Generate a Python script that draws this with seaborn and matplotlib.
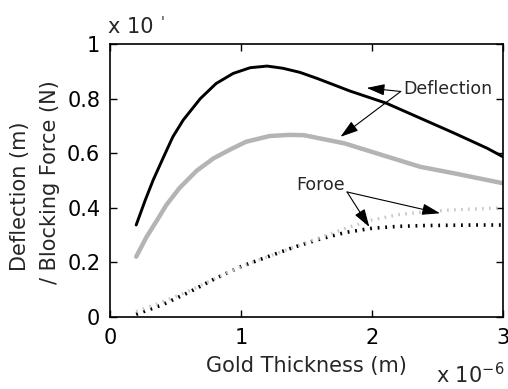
import matplotlib
matplotlib.use("Agg")
import matplotlib.pyplot as plt
import seaborn as sns

# Data
defl_black_x = [0.2, 0.27, 0.33, 0.41, 0.48, 0.56, 0.69, 0.81, 0.94, 1.07, 1.2, 1.32, 1.45, 1.58, 1.7, 1.83, 2.11, 2.37, 2.63, 2.88, 3.0]
defl_black_y = [0.337, 0.429, 0.502, 0.587, 0.66, 0.722, 0.80, 0.855, 0.892, 0.913, 0.919, 0.911, 0.896, 0.874, 0.852, 0.828, 0.783, 0.728, 0.673, 0.618, 0.587]

defl_gray_x = [0.2, 0.28, 0.36, 0.43, 0.53, 0.66, 0.79, 0.92, 1.04, 1.22, 1.37, 1.48, 1.79, 2.12, 2.37, 2.63, 3.0]
defl_gray_y = [0.221, 0.294, 0.355, 0.41, 0.472, 0.535, 0.581, 0.614, 0.642, 0.663, 0.667, 0.666, 0.636, 0.587, 0.55, 0.526, 0.49]

force_black_x = [0.2, 0.4, 0.6, 0.8, 1.0, 1.2, 1.4, 1.6, 1.8, 2.0, 2.2, 2.4, 2.6, 2.8, 3.0]
force_black_y = [0.01, 0.045, 0.09, 0.14, 0.185, 0.22, 0.255, 0.285, 0.31, 0.325, 0.332, 0.335, 0.336, 0.337, 0.337]

force_gray_x = [0.2, 0.4, 0.6, 0.8, 1.0, 1.2, 1.4, 1.6, 1.8, 2.0, 2.2, 2.4, 2.6, 2.8, 3.0]
force_gray_y = [0.02, 0.055, 0.095, 0.14, 0.185, 0.22, 0.255, 0.29, 0.325, 0.355, 0.375, 0.385, 0.392, 0.396, 0.40]

x_ticks = [0, 1, 2, 3]
y_ticks = [0, 0.2, 0.4, 0.6, 0.8, 1]
y_tick_labels = ["0", "0.2", "0.4", "0.6", "0.8", "1"]

sns.set_style("ticks")
plt.rcParams["font.family"] = ["DejaVu Sans"]

fig = plt.figure(figsize=(5.08, 3.89), dpi=100)
ax = fig.add_axes([0.2165, 0.185, 0.7735, 0.702])

dots = (0, (0.5, 1.6))
sns.lineplot(x=force_black_x, y=force_black_y, ax=ax, color="black", lw=2.6,
             linestyle=dots)
sns.lineplot(x=force_gray_x, y=force_gray_y, ax=ax, color="#c8c8c8", lw=2.4,
             linestyle=dots)
sns.lineplot(x=defl_gray_x, y=defl_gray_y, ax=ax, color="#b4b4b4", lw=3.2)
sns.lineplot(x=defl_black_x, y=defl_black_y, ax=ax, color="black", lw=2.1)

ax.set_xlim(0, 3)
ax.set_ylim(0, 1)
ax.set_xticks(x_ticks)
ax.set_xticklabels([str(t) for t in x_ticks])
ax.set_yticks(y_ticks)
ax.set_yticklabels(y_tick_labels)
ax.tick_params(direction="in", top=True, right=True, length=5, width=1,
               labelsize=15, colors="black", pad=7)
ax.tick_params(axis="x", pad=8)
for s in ax.spines.values():
    s.set_visible(True)
    s.set_color("black")
    s.set_linewidth(1.2)

ax.set_xlabel("Gold Thickness (m)", fontsize=15, labelpad=6)
ax.set_ylabel("")
fig.text(20 / 508, 1 - 196 / 389, "Deflection (m)", rotation=90, fontsize=15,
         ha="center", va="center")
fig.text(50 / 508, 1 - 182 / 389, "/ Blocking Force (N)", rotation=90, fontsize=15,
         ha="center", va="center")

fig.text(108 / 508, 1 - 33 / 389, "x 10", fontsize=15, ha="left", va="baseline")
fig.text(161 / 508, 1 - 26 / 389, "'", fontsize=10, ha="left", va="baseline")
fig.text(436 / 508, 1 - 383 / 389, "x 10$^{-6}$", fontsize=15, ha="left", va="baseline")

arrow = dict(arrowstyle="-|>,head_length=1.1,head_width=0.35", color="black", lw=0.8,
             shrinkA=0, shrinkB=0)
# Deflection labels
ax.text(2.24, 0.835, "Deflection", fontsize=12.5, va="center", ha="left")
ax.annotate("", xy=(1.96, 0.839), xytext=(2.22, 0.826), arrowprops=arrow)
ax.annotate("", xy=(1.76, 0.66), xytext=(2.22, 0.826), arrowprops=arrow)
# Force labels
ax.text(1.79, 0.485, "Foroe", fontsize=12.5, va="center", ha="right")
ax.annotate("", xy=(1.98, 0.33), xytext=(1.81, 0.458), arrowprops=arrow)
ax.annotate("", xy=(2.52, 0.38), xytext=(1.81, 0.458), arrowprops=arrow)

fig.savefig("out.png", dpi=100)
